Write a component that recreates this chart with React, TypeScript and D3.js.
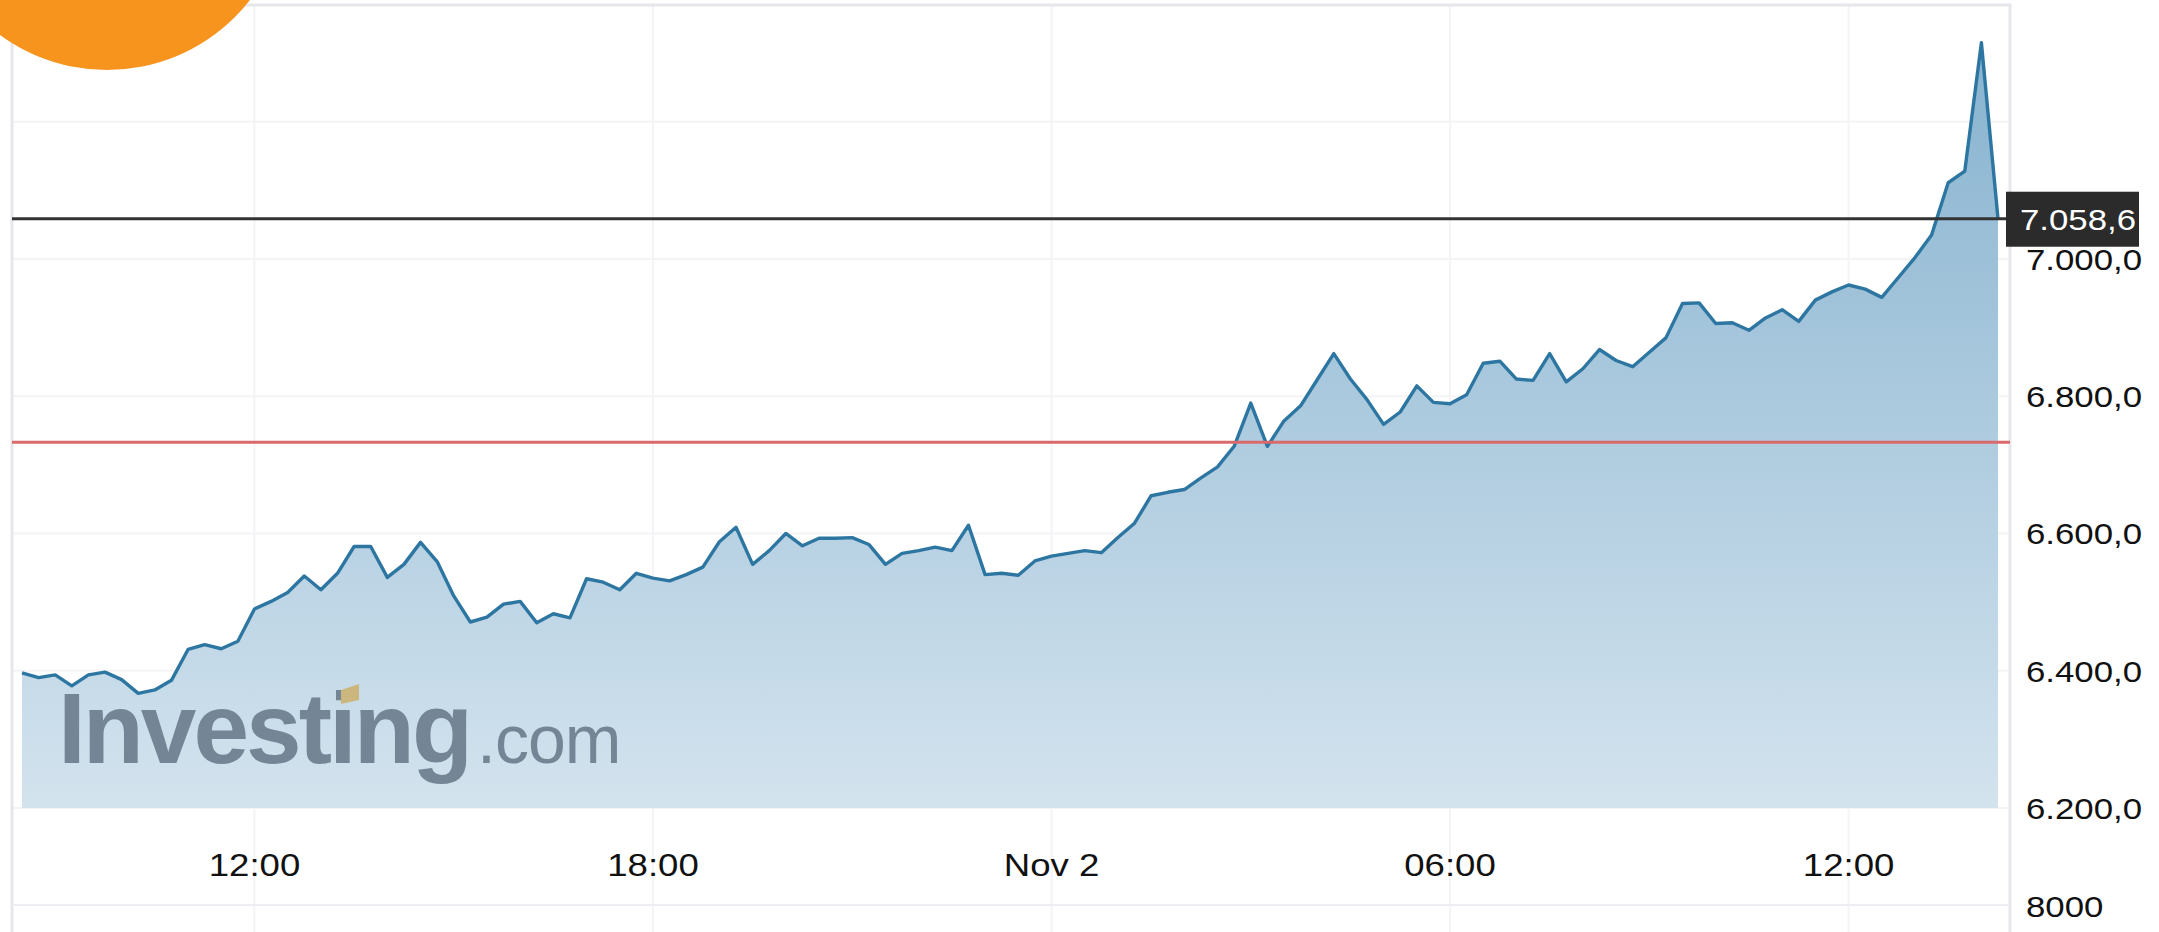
import { useEffect, useRef } from 'react';
import * as d3 from 'd3';

// 15 minute closes, Nov 1 08:30 -> Nov 2 14:15
const startTime = new Date(2017, 10, 1, 8, 30);
const endTime = new Date(2017, 10, 2, 14, 15);

const closes = [
  6397, 6390, 6394, 6378, 6394, 6398, 6387, 6367, 6372, 6386,
  6431, 6438, 6432, 6443, 6490, 6501, 6514, 6538, 6518, 6542,
  6581, 6581, 6536, 6555, 6587, 6559, 6509, 6471, 6478, 6497,
  6501, 6470, 6483, 6477, 6534, 6529, 6518, 6542, 6535, 6531,
  6540, 6551, 6588, 6609, 6555, 6575, 6600, 6582, 6593, 6593,
  6594, 6584, 6555, 6571, 6575, 6580, 6575, 6612, 6540, 6542,
  6539, 6560, 6567, 6571, 6575, 6572, 6594, 6615, 6655, 6660,
  6664, 6681, 6697, 6727, 6790, 6727, 6764, 6786, 6824, 6862,
  6825, 6795, 6759, 6777, 6815, 6791, 6789, 6802, 6848, 6851,
  6825, 6823, 6862, 6821, 6840, 6868, 6852, 6843, 6864, 6885,
  6935, 6936, 6906, 6907, 6896, 6914, 6926, 6909, 6940, 6952,
  6962, 6956, 6944, 6973, 7002, 7035, 7111, 7128, 7315, 7058.6,
];

const yTicks = [6200, 6400, 6600, 6800, 7000];
const gridValues = [6200, 6400, 6600, 6800, 7000, 7200];
const lastPrice = 7058.6;
const refPrice = 6733;
const volumeLabel = '8000';

export default function App() {
  const svgRef = useRef<SVGSVGElement>(null);

  useEffect(() => {
    if (!svgRef.current) return;
    const width = 2159;
    const height = 932;
    const plot = { left: 12, right: 2010, top: 5, bottom: 808 };

    const svg = d3.select(svgRef.current);
    svg.selectAll('*').remove();

    const times = d3.timeMinute.every(15)!.range(startTime, new Date(+endTime + 1));
    const data = times.map((t, i) => ({ t, v: closes[i] }));

    const x = d3.scaleTime().domain([startTime, endTime]).range([22, 1998]);
    const y = d3.scaleLinear().domain([6200, 7370]).range([plot.bottom, plot.top]);

    const locale = d3.formatLocale({ decimal: ',', thousands: '.', grouping: [3], currency: ['', ''] });
    const fmt = locale.format(',.1f');

    svg.append('rect').attr('width', width).attr('height', height).attr('fill', '#fff');

    const defs = svg.append('defs');
    const grad = defs.append('linearGradient')
      .attr('id', 'areaFill')
      .attr('gradientUnits', 'userSpaceOnUse')
      .attr('x1', 0).attr('x2', 0)
      .attr('y1', 30).attr('y2', plot.bottom);
    grad.append('stop').attr('offset', '0%').attr('stop-color', '#86b2cf');
    grad.append('stop').attr('offset', '100%').attr('stop-color', '#d3e3ee');

    // grid
    svg.append('g')
      .selectAll('line')
      .data(gridValues)
      .enter().append('line')
      .attr('x1', plot.left).attr('x2', plot.right)
      .attr('y1', d => y(d)).attr('y2', d => y(d))
      .attr('stroke', '#f4f4f7').attr('stroke-width', 2);

    const xTicks = d3.timeHour.every(6)!.range(d3.timeHour.ceil(startTime), endTime);
    svg.append('g')
      .selectAll('line')
      .data(xTicks)
      .enter().append('line')
      .attr('x1', d => x(d)).attr('x2', d => x(d))
      .attr('y1', plot.top).attr('y2', height)
      .attr('stroke', '#f4f4f7').attr('stroke-width', 2);

    // frame
    svg.append('path')
      .attr('d', `M${plot.left},${height} V${plot.top} H${plot.right} V${height}`)
      .attr('fill', 'none').attr('stroke', '#e6e6ec').attr('stroke-width', 3);
    svg.append('line')
      .attr('x1', plot.left).attr('x2', plot.right).attr('y1', 905).attr('y2', 905)
      .attr('stroke', '#eeeef2').attr('stroke-width', 2);

    // area + line
    const area = d3.area<any>().x(d => x(d.t)).y0(plot.bottom).y1(d => y(d.v));
    const line = d3.line<any>().x(d => x(d.t)).y(d => y(d.v));
    svg.append('path').datum(data).attr('d', area).attr('fill', 'url(#areaFill)');

    // watermark
    const wm = svg.append('g').attr('fill', '#6d7f8e').attr('opacity', 0.92);
    wm.append('text')
      .attr('x', 58).attr('y', 763)
      .attr('font-family', 'Liberation Sans, Arial, sans-serif')
      .attr('font-weight', 'bold').attr('font-size', 100)
      .attr('letter-spacing', -3)
      .text('Investing');
    wm.append('text')
      .attr('x', 477).attr('y', 763)
      .attr('font-family', 'Liberation Sans, Arial, sans-serif')
      .attr('font-size', 68)
      .attr('letter-spacing', -1)
      .text('.com');
    svg.append('path')
      .attr('d', 'M341,690 L359,684 L359,700 L341,704 Z')
      .attr('fill', '#cbb67e');

    svg.append('path').datum(data).attr('d', line)
      .attr('fill', 'none').attr('stroke', '#2e76a2').attr('stroke-width', 3.4)
      .attr('stroke-linejoin', 'round');

    // reference lines
    svg.append('line')
      .attr('x1', plot.left).attr('x2', plot.right)
      .attr('y1', y(refPrice)).attr('y2', y(refPrice))
      .attr('stroke', '#d96a6c').attr('stroke-width', 3);
    svg.append('line')
      .attr('x1', plot.left).attr('x2', 2006)
      .attr('y1', y(lastPrice)).attr('y2', y(lastPrice))
      .attr('stroke', '#333').attr('stroke-width', 3);

    const labelFont = 'Liberation Sans, Arial, sans-serif';

    // y labels
    svg.append('g')
      .selectAll('text')
      .data(yTicks)
      .enter().append('text')
      .attr('transform', d => `translate(2026,${y(d) + 11}) scale(1.16,1)`)
      .attr('font-family', labelFont).attr('font-size', 30).attr('fill', '#111')
      .text(d => fmt(d));

    // last price tag
    svg.append('rect')
      .attr('x', 2006).attr('y', y(lastPrice) - 27)
      .attr('width', 133).attr('height', 55)
      .attr('fill', '#2b2b2b');
    svg.append('text')
      .attr('transform', `translate(2020,${y(lastPrice) + 11}) scale(1.16,1)`)
      .attr('font-family', labelFont).attr('font-size', 30).attr('fill', '#fff')
      .text(fmt(lastPrice));

    // x labels
    const tf = (d: Date) => d.getHours() === 0 ? d3.timeFormat('%b %-d')(d) : d3.timeFormat('%H:%M')(d);
    svg.append('g')
      .selectAll('text')
      .data(xTicks)
      .enter().append('text')
      .attr('transform', d => `translate(${x(d)},876) scale(1.18,1)`)
      .attr('text-anchor', 'middle')
      .attr('font-family', labelFont).attr('font-size', 31).attr('fill', '#111')
      .text(d => tf(d));

    svg.append('text')
      .attr('transform', `translate(2026,917) scale(1.16,1)`)
      .attr('font-family', labelFont).attr('font-size', 30).attr('fill', '#111')
      .text(volumeLabel);

    // badge
    svg.append('circle').attr('cx', 107).attr('cy', -111).attr('r', 181).attr('fill', '#f7941d');
  }, []);

  return (
    <svg
      ref={svgRef}
      width={2159}
      height={932}
      style={{ position: 'absolute', left: 0, top: 0, display: 'block' }}
    />
  );
}
